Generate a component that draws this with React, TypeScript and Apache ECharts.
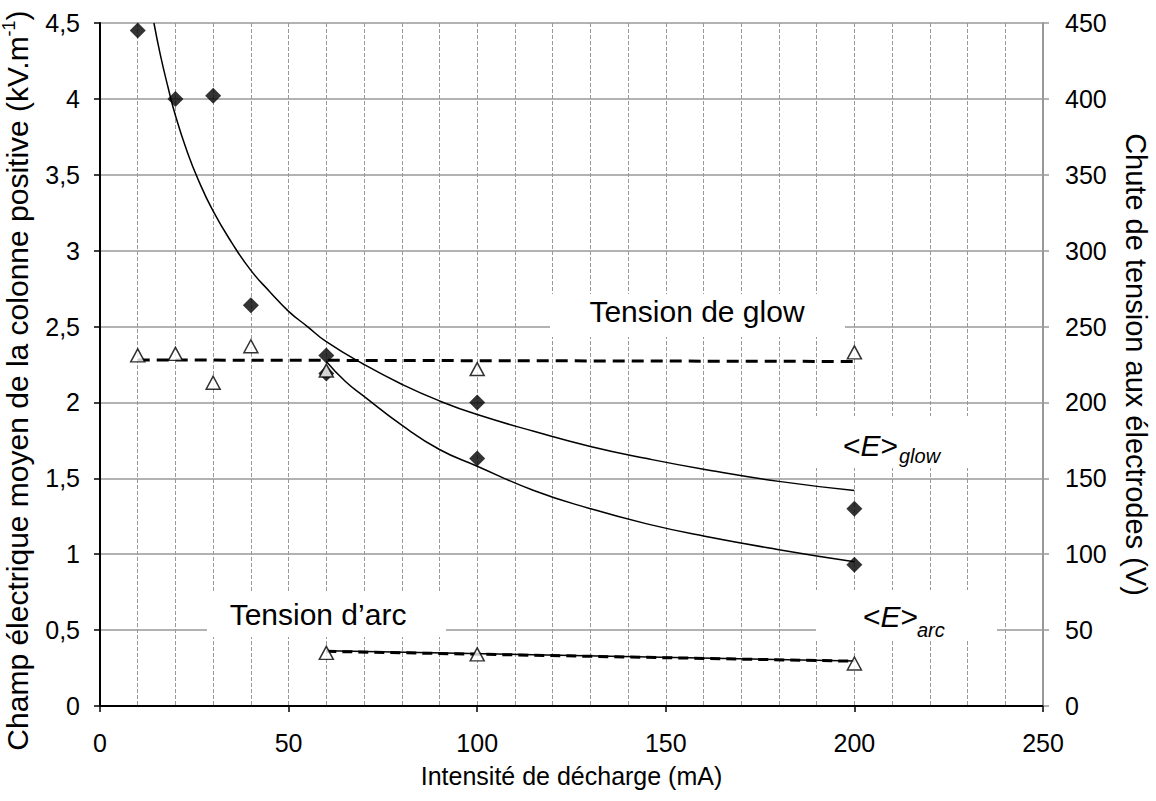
import React, { useEffect, useRef } from 'react';
import * as echarts from 'echarts';

const FONT = '"Liberation Sans", Arial, Helvetica, sans-serif';

// Mean electric field of the positive column (kV.m-1), left axis
const eFieldPoints: [number, number][] = [
  [10, 4.45], [20, 4.0], [30, 4.02], [40, 2.64], [60, 2.31], [60, 2.19],
  [100, 2.0], [100, 1.63], [200, 1.3], [200, 0.93],
];
// Electrode voltage drop (V), right axis
const glowVoltage: [number, number][] = [
  [10, 231], [20, 232], [30, 213], [40, 237], [60, 221], [100, 222], [200, 233],
];
const arcVoltage: [number, number][] = [[60, 35], [100, 34], [200, 28]];

// Trend curves
const eGlowFit: [number, number][] = [
  [14.3, 4.5], [16, 4.29], [18, 4.08], [20, 3.89], [23, 3.66], [26, 3.47], [30, 3.26],
  [35, 3.05], [40, 2.87], [45, 2.73], [50, 2.6], [55, 2.5], [60, 2.4], [70, 2.25],
  [80, 2.12], [90, 2.01], [100, 1.92], [115, 1.81], [130, 1.71], [145, 1.63],
  [160, 1.56], [180, 1.48], [200, 1.42],
];
const eArcFit: [number, number][] = [
  [60, 2.27], [65, 2.14], [70, 2.04], [80, 1.85], [90, 1.69], [100, 1.58], [115, 1.42],
  [130, 1.3], [145, 1.2], [160, 1.12], [180, 1.03], [200, 0.95],
];
const glowVoltageFit: [number, number][] = [[10, 228], [200, 227]];
const arcVoltageFit: [number, number][] = [[60, 36.4], [200, 29.6]];
const arcVoltageMean: [number, number][] = [[60, 36], [200, 29.5]];

const xTitle = 'Intensité de décharge (mA)';
const yLeftTitle = 'Champ électrique moyen de la colonne positive (kV.m{sup|-1})';
const yRightTitle = 'Chute de tension aux électrodes (V)';

export default function App() {
  const ref = useRef<HTMLDivElement>(null);
  useEffect(() => {
    if (!ref.current) return;
    const chart = echarts.init(ref.current, null, { renderer: 'svg' });
    const black = '#000';
    const gray = '#999';
    const richE = {
      n: { fontSize: 30, fontFamily: FONT, fill: black },
      i: { fontSize: 30, fontFamily: FONT, fontStyle: 'italic', fill: black },
    };
    const option: any = {
      animation: false,
      backgroundColor: '#fff',
      textStyle: { fontFamily: FONT },
      grid: { left: 100, right: 113, top: 23, bottom: 95, containLabel: false, outerBoundsMode: 'none' },
      xAxis: {
        type: 'value', min: 0, max: 250, interval: 50,
        axisLine: { show: true, onZero: false, lineStyle: { color: black, width: 2 } },
        axisTick: { show: true, length: 6, lineStyle: { color: black, width: 1.5 } },
        axisLabel: { fontSize: 25, color: black, margin: 24, fontFamily: FONT },
        splitLine: { show: true, lineStyle: { color: gray, type: [4, 2], width: 1 } },
        minorTick: { show: false, splitNumber: 5 },
        minorSplitLine: { show: true, lineStyle: { color: gray, type: [4, 2], width: 1 } },
        name: xTitle, nameLocation: 'middle', nameGap: 57,
        nameTextStyle: { fontSize: 25, color: black, fontFamily: FONT },
      },
      yAxis: [
        {
          type: 'value', min: 0, max: 4.5, interval: 0.5, position: 'left',
          axisLine: { show: true, onZero: false, lineStyle: { color: black, width: 2 } },
          axisTick: { show: true, length: 6, lineStyle: { color: black, width: 1.5 } },
          axisLabel: {
            fontSize: 25, color: black, margin: 20, fontFamily: FONT,
            formatter: (v: number) => String(v).replace('.', ','),
          },
          splitLine: { show: true, lineStyle: { color: gray, width: 1.5 } },
          name: yLeftTitle, nameLocation: 'middle', nameGap: 60,
          nameTextStyle: {
            fontSize: 30, color: black, fontFamily: FONT, lineHeight: 34, padding: [0, 32, 0, 0],
            rich: { sup: { fontSize: 18, lineHeight: 18, verticalAlign: 'top', fontFamily: FONT, color: black } },
          },
        },
        {
          type: 'value', min: 0, max: 450, interval: 50, position: 'right',
          axisLine: { show: true, onZero: false, lineStyle: { color: gray, width: 2 } },
          axisTick: { show: true, length: 6, lineStyle: { color: gray, width: 1.5 } },
          axisLabel: { fontSize: 25, color: black, margin: 22, fontFamily: FONT },
          splitLine: { show: false },
          name: yRightTitle, nameLocation: 'middle', nameGap: 78, nameRotate: -90,
          nameTextStyle: { fontSize: 29, color: black, fontFamily: FONT },
        },
      ],
      series: [
        {
          name: '<E>glow fit', type: 'line', data: eGlowFit, smooth: true,
          showSymbol: false, symbol: 'none', lineStyle: { color: black, width: 1.5 }, z: 3,
        },
        {
          name: '<E>arc fit', type: 'line', data: eArcFit, smooth: true,
          showSymbol: false, symbol: 'none', lineStyle: { color: black, width: 1.5 }, z: 3,
        },
        {
          name: 'glow voltage fit', type: 'line', yAxisIndex: 1, data: glowVoltageFit,
          showSymbol: false, symbol: 'none', lineStyle: { color: black, width: 3, type: [12, 7] }, z: 3,
        },
        {
          name: 'arc voltage mean', type: 'line', yAxisIndex: 1, data: arcVoltageMean,
          showSymbol: false, symbol: 'none', lineStyle: { color: black, width: 3, type: [10, 6] }, z: 3,
        },
        {
          name: 'arc voltage fit', type: 'line', yAxisIndex: 1, data: arcVoltageFit,
          showSymbol: false, symbol: 'none', lineStyle: { color: black, width: 1.5 }, z: 3,
        },
        {
          name: 'E', type: 'scatter', data: eFieldPoints, symbol: 'diamond', symbolSize: [16, 16],
          itemStyle: { color: black }, z: 4,
        },
        {
          name: 'glow voltage', type: 'scatter', yAxisIndex: 1, data: glowVoltage, symbol: 'triangle',
          symbolSize: [14, 13], itemStyle: { color: '#fff', borderColor: black, borderWidth: 1.5 }, z: 4,
        },
        {
          name: 'arc voltage', type: 'scatter', yAxisIndex: 1, data: arcVoltage, symbol: 'triangle',
          symbolSize: [14, 13], itemStyle: { color: '#fff', borderColor: black, borderWidth: 1.5 }, z: 4,
        },
      ],
      graphic: [
        { type: 'rect', shape: { x: 550, y: 294, width: 295, height: 43 }, style: { fill: '#fff' }, z: 5, silent: true },
        { type: 'rect', shape: { x: 800, y: 416, width: 190, height: 52 }, style: { fill: '#fff' }, z: 5, silent: true },
        { type: 'rect', shape: { x: 207, y: 592, width: 239, height: 45 }, style: { fill: '#fff' }, z: 5, silent: true },
        { type: 'rect', shape: { x: 816, y: 590, width: 181, height: 51 }, style: { fill: '#fff' }, z: 5, silent: true },
        {
          type: 'text', x: 697, y: 311, z: 6, silent: true,
          style: { text: 'Tension de glow', fontSize: 30, fontFamily: FONT, fill: black, align: 'center', verticalAlign: 'middle' },
        },
        {
          type: 'text', x: 318, y: 614, z: 6, silent: true,
          style: { text: 'Tension d’arc', fontSize: 30, fontFamily: FONT, fill: black, align: 'center', verticalAlign: 'middle' },
        },
        {
          type: 'text', x: 843, y: 445, z: 6, silent: true,
          style: { text: '{n|<}{i|E}{n|>}', align: 'left', verticalAlign: 'middle', fill: black, rich: richE },
        },
        {
          type: 'text', x: 899, y: 456, z: 6, silent: true,
          style: { text: 'glow', fontSize: 20, fontStyle: 'italic', fontFamily: FONT, fill: black, align: 'left', verticalAlign: 'middle' },
        },
        {
          type: 'text', x: 863, y: 616, z: 6, silent: true,
          style: { text: '{n|<}{i|E}{n|>}', align: 'left', verticalAlign: 'middle', fill: black, rich: richE },
        },
        {
          type: 'text', x: 917, y: 630, z: 6, silent: true,
          style: { text: 'arc', fontSize: 20, fontStyle: 'italic', fontFamily: FONT, fill: black, align: 'left', verticalAlign: 'middle' },
        },
      ],
    };
    chart.setOption(option);
    return () => chart.dispose();
  }, []);
  return (
    <div
      ref={ref}
      style={{ position: 'absolute', left: 0, top: 0, width: 1156, height: 801, background: '#fff' }}
    />
  );
}
